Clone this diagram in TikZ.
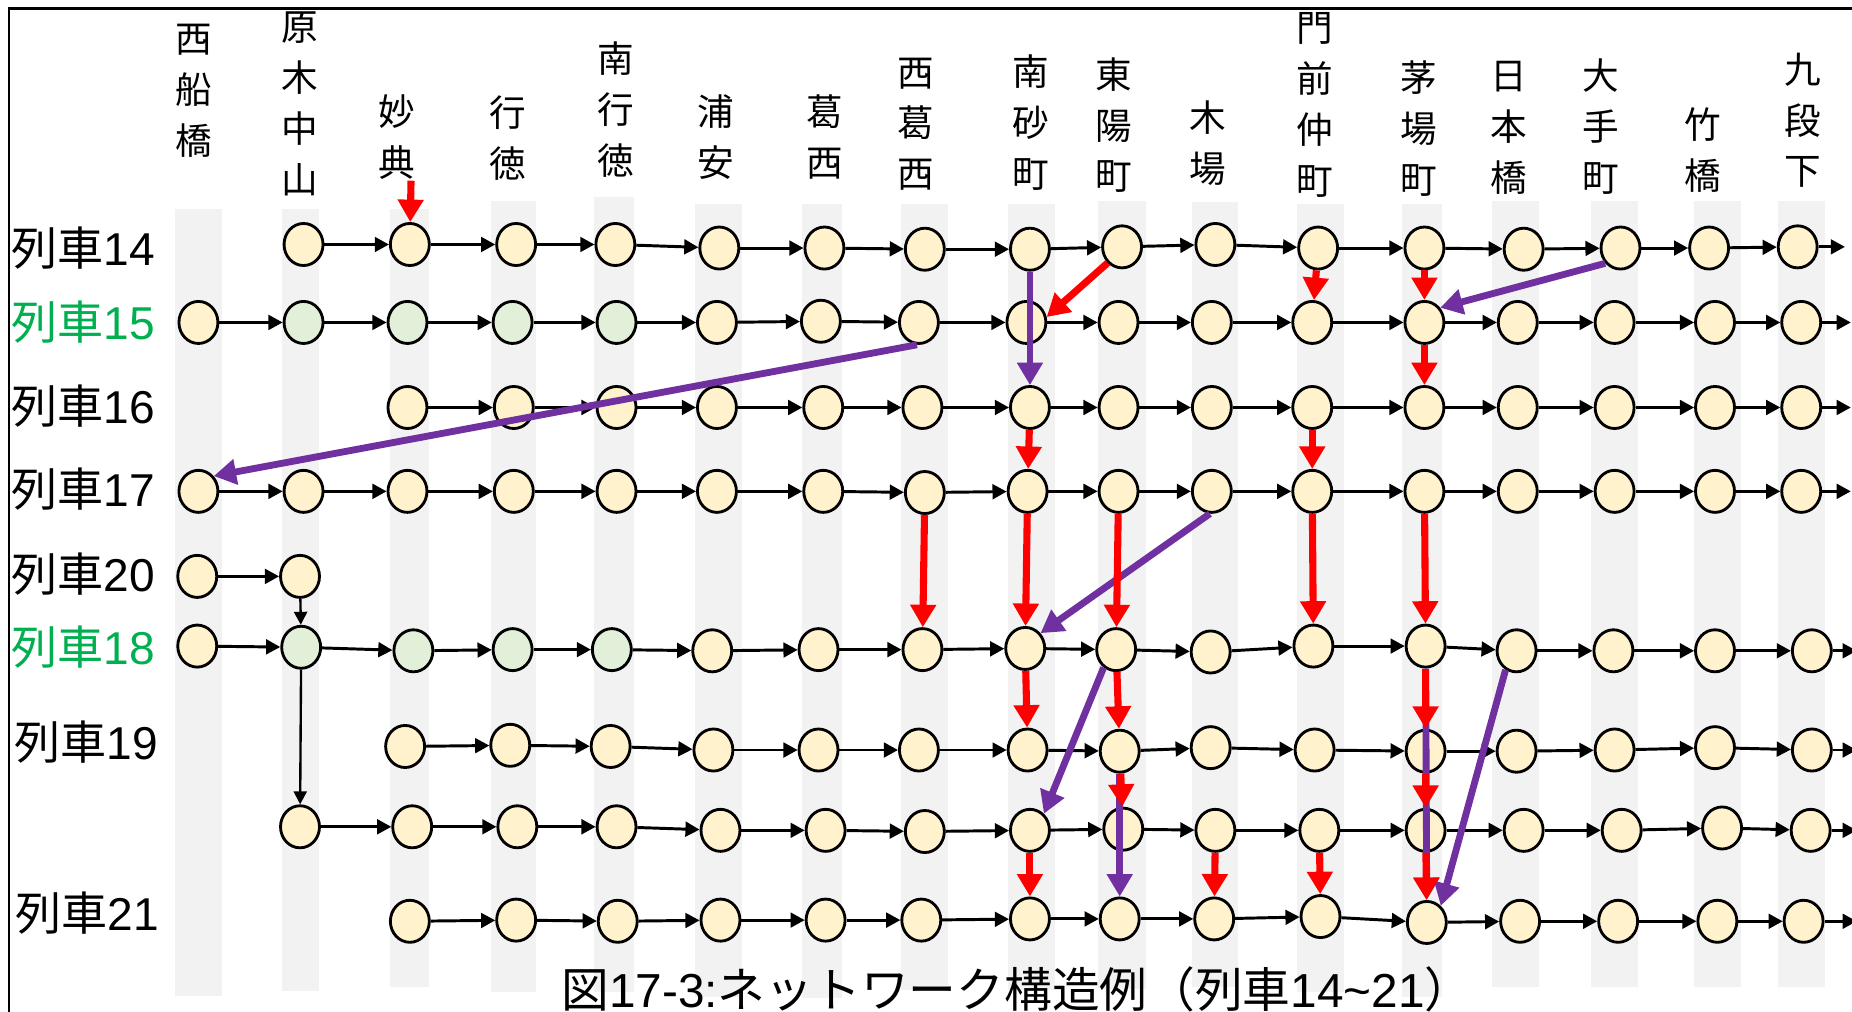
\documentclass[tikz,border=0pt]{standalone}
\usepackage{fontspec}
\setmainfont{Liberation Sans}
\newfontfamily\jp{Noto Sans CJK JP}
\newfontfamily\lat{Liberation Sans}
\usetikzlibrary{arrows.meta,shapes.geometric}
\definecolor{nfill}{HTML}{FFF2CC}
\definecolor{gfill}{HTML}{E2F0D9}
\definecolor{redc}{HTML}{FF0000}
\definecolor{purp}{HTML}{7030A0}
\definecolor{gtext}{HTML}{00B050}
\definecolor{stripec}{HTML}{F2F2F2}
\newcommand\trainlbl[1]{{\jp 列車}{\lat #1}}
\tikzset{
 stn/.style={ellipse,draw=black,line width=1.2pt,fill=nfill,minimum width=16.5pt,minimum height=17.8pt,inner sep=0pt},
 stng/.style={stn,fill=gfill},
 flow/.style={line width=1.25pt,-{Triangle[length=6pt,width=6.2pt]}},
 thinflow/.style={line width=1pt,-{Triangle[length=5.5pt,width=5.5pt]}},
 redarr/.style={color=redc,line width=3pt,-{Triangle[length=9.5pt,width=10.5pt]}},
 purarr/.style={color=purp,line width=2.9pt,-{Triangle[length=9.5pt,width=10.5pt]}},
 sname/.style={font=\jp\fontsize{15.5}{21.5}\selectfont,align=center,inner sep=0pt},
 tlabel/.style={font=\fontsize{19.5}{22}\selectfont,anchor=west,inner sep=0pt},
}
\begin{document}
\begin{tikzpicture}[x=0.5pt,y=-0.5pt]
\useasboundingbox (0,0) rectangle (1568,856);
% frame (top and left edges visible)
\draw[line width=1.25pt] (7.6,900) -- (7.6,7.6) -- (1600,7.6);
% stripes
\foreach \xa/\xb/\ya/\yb in {148/188/177/843,239/270/177/839,330/363/177/836,416/454/170/840,503/537/167/840,588/628/173/844,679/713/173/845,763/803/173/838,853/893/173/838,930/970/170/837,1009/1048/171/836,1098/1138/173/840,1187/1221/173/844,1263/1303/170/836,1347/1387/170/836,1434/1474/170/836,1505/1545/170/836}
  \fill[stripec] (\xa,\ya) rectangle (\xb,\yb);
% station names
\node[sname] (s1) at (164,77) {西\\船\\橋};
\node[sname] (s2) at (254,88) {原\\木\\中\\山};
\node[sname] (s3) at (336,116) {妙\\典};
\node[sname] (s4) at (430,117) {行\\徳};
\node[sname] (s5) at (521,93) {南\\行\\徳};
\node[sname] (s6) at (606,116) {浦\\安};
\node[sname] (s7) at (698,116) {葛\\西};
\node[sname] (s8) at (775,105) {西\\葛\\西};
\node[sname] (s9) at (873,104) {南\\砂\\町};
\node[sname] (s10) at (943,106) {東\\陽\\町};
\node[sname] (s11) at (1023,121) {木\\場};
\node[sname] (s12) at (1113,89) {門\\前\\仲\\町};
\node[sname] (s13) at (1201,109) {茅\\場\\町};
\node[sname] (s14) at (1277,108) {日\\本\\橋};
\node[sname] (s15) at (1355,107) {大\\手\\町};
\node[sname] (s16) at (1442,127) {竹\\橋};
\node[sname] (s17) at (1526,102) {九\\段\\下};
% train labels
\node[tlabel] (L14) at (9.5,210) {\trainlbl{14}};
\node[tlabel,text=gtext] (L15) at (9.5,273) {\trainlbl{15}};
\node[tlabel] (L16) at (9.5,344) {\trainlbl{16}};
\node[tlabel] (L17) at (9.5,414) {\trainlbl{17}};
\node[tlabel] (L20) at (9.5,486) {\trainlbl{20}};
\node[tlabel,text=gtext] (L18) at (9.5,548) {\trainlbl{18}};
\node[tlabel] (L19) at (12,628) {\trainlbl{19}};
\node[tlabel] (L21) at (13,773) {\trainlbl{21}};
% nodes
\foreach \c/\x/\y in {2/257/207,3/347/207,4/437/207,5/521/207,6/609/210,7/698/210,8/783/211,9/872/211,10/950/209,11/1029/207,12/1116/210,13/1206/210,14/1290/211,15/1372/210,16/1447/210,17/1522/209}
  \node[stn] (A\c) at (\x,\y) {};
\node[stn] (B1) at (168,273) {};
\foreach \c/\x/\y in {2/257/273,3/345/273,4/434/273,5/522/273}
  \node[stng] (B\c) at (\x,\y) {};
\foreach \c/\x/\y in {6/607/273,7/695/272,8/778/273,9/869/273,10/947/273,11/1026/273,12/1111/273,13/1206/273,14/1285/273,15/1367/273,16/1452/273,17/1525/273}
  \node[stn] (B\c) at (\x,\y) {};
\foreach \c/\x/\y in {3/345/345,4/435/345,5/522/345,6/607/345,7/697/345,8/781/345,9/872/345,10/947/345,11/1026/345,12/1111/345,13/1206/345,14/1285/345,15/1367/345,16/1452/345,17/1525/345}
  \node[stn] (C\c) at (\x,\y) {};
\foreach \c/\x/\y in {1/168/416,2/257/416,3/345/416,4/435/416,5/522/416,6/607/416,7/697/416,8/783/417,9/870/416,10/947/416,11/1026/416,12/1111/416,13/1206/416,14/1285/416,15/1367/416,16/1452/416,17/1525/416}
  \node[stn] (D\c) at (\x,\y) {};
\node[stn] (E1) at (167,488) {};
\node[stn] (E2) at (254,488) {};
\node[stn] (F1) at (167,547) {};
\foreach \c/\x/\y in {2/255/548,3/350/551,4/434/550,5/518/550}
  \node[stng] (F\c) at (\x,\y) {};
\foreach \c/\x/\y in {6/603/551,7/693/550,8/781/550,9/868/549,10/945/550,11/1025/552,12/1112/547,13/1207/547,14/1284/551,15/1366/551,16/1452/551,17/1534/551}
  \node[stn] (F\c) at (\x,\y) {};
\foreach \c/\x/\y in {3/343/632,4/432/631,5/517/632,6/604/635,7/693/635,8/778/635,9/870/635,10/948/636,11/1025/633,12/1113/635,13/1207/636,14/1284/636,15/1367/635,16/1452/633,17/1534/635}
  \node[stn] (G\c) at (\x,\y) {};
\foreach \c/\x/\y in {2/254/700,3/349/700,4/438/700,5/522/700,6/610/703,7/699/703,8/783/704,9/872/703,10/951/702,11/1029/703,12/1117/703,13/1207/703,14/1290/703,15/1373/703,16/1458/701,17/1533/703}
  \node[stn] (H\c) at (\x,\y) {};
\foreach \c/\x/\y in {3/347/780,4/437/779,5/523/780,6/610/779,7/699/779,8/780/779,9/872/778,10/948/778,11/1028/778,12/1118/776,13/1208/781,14/1287/780,15/1370/780,16/1454/780,17/1527/780}
  \node[stn] (I\c) at (\x,\y) {};
% horizontal flow arrows
\foreach \r/\s in {A/2,B/1,C/3,D/1,F/1,G/3,H/2,I/3}{
  \foreach \c in {\s,...,16}{
    \pgfmathtruncatemacro\nxt{\c+1}
    \draw[flow] (\r\c) -- (\r\nxt);
  }
}
\draw[flow] (E1) -- (E2);
% exits to the right
\coordinate (Aout) at (1562,209);
\coordinate (Bout) at (1567,273);
\coordinate (Cout) at (1567,345);
\coordinate (Dout) at (1567,416);
\coordinate (Fout) at (1572,551);
\coordinate (Gout) at (1572,635);
\coordinate (Hout) at (1572,703);
\coordinate (Iout) at (1572,780);
\foreach \r in {A,B,C,D,F,G,H,I}
  \draw[flow] (\r17) -- (\r out);
% black verticals
\draw[thinflow] (E2) -- (F2);
\draw[thinflow] (F2) -- (H2);
% purple transfers
\draw[purarr] (A9) -- (C9);
\draw[purarr] (A15.225) -- (B13.43);
\draw[purarr] (B8.265) -- (D1.45);
\draw[purarr] (D11.265) -- (F9.45);
\draw[purarr] (F10.235) -- (H9.50);
\draw[purarr] (G10) -- (I10);
\draw[purarr] (F13) -- (I13);
\draw[purarr] (F14.240) -- (I13.50);
% red transfers
\coordinate (topin) at (348,153);
\draw[redarr] (topin) -- (A3);
\draw[redarr] (A10.228) -- (B9.15);
\foreach \p/\q in {A12/B12,A13/B13,B13/C13,C9/D9,C12/D12,D8/F8,D9/F9,D10/F10,D12/F12,D13/F13,F9/G9,F10/G10,F13/G13,G10/H10,G13/H13,H9/I9,H11/I11,H12/I12,H13/I13}
  \draw[redarr] (\p) -- (\q);
% caption
\node[anchor=base west,inner sep=0pt,font=\fontsize{20.2}{22}\selectfont] (cap) at (475,853)
  {{\jp 図}{\lat 17-3:}{\jp ネットワーク構造例（列車}{\lat 14\textasciitilde 21}{\jp ）}};
\end{tikzpicture}
\end{document}
